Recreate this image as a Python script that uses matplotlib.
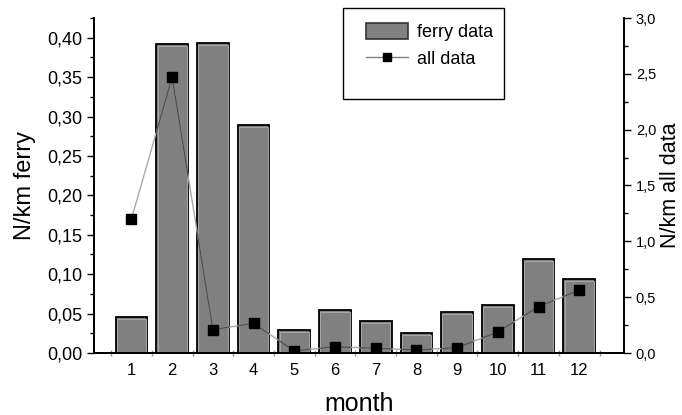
import matplotlib
matplotlib.use("Agg")
import matplotlib.pyplot as plt
from matplotlib.ticker import FuncFormatter, MultipleLocator, FixedLocator
from matplotlib.patches import Rectangle
from matplotlib.lines import Line2D
from matplotlib.path import Path

plt.rcParams['font.family'] = ['Liberation Sans', 'DejaVu Sans']

months = [1, 2, 3, 4, 5, 6, 7, 8, 9, 10, 11, 12]
month_labels = [str(m) for m in months]
ferry = [0.046, 0.392, 0.393, 0.289, 0.029, 0.054, 0.041, 0.025, 0.052, 0.061, 0.119, 0.094]
all_data = [1.20, 2.47, 0.21, 0.265, 0.018, 0.056, 0.042, 0.027, 0.048, 0.188, 0.415, 0.564]

fig = plt.figure(figsize=(6.82, 4.15), dpi=100)
ax = fig.add_axes([94/682, 1-353/415, (624-94)/682, (353-18)/415])
ax2 = ax.twinx()

bars = ax.bar(months, ferry, width=0.78, color='#808080', edgecolor='black', linewidth=1.3, zorder=2)
# light inner highlight of the bars
ax.bar(months, [v - 0.0025 for v in ferry], width=0.72, fill=False, edgecolor='#a8a8a8',
       linewidth=0.7, zorder=3)

# light line (outside the bars)
ax2.plot(months, all_data, color='#aaaaaa', linewidth=1.0, zorder=2)
# darker part of the line where it crosses the bars
dark, = ax2.plot(months, all_data, color='#505050', linewidth=1.0, zorder=3)
clip = Path.make_compound_path(*[b.get_path().transformed(b.get_patch_transform()) for b in bars])
dark.set_clip_path(clip, ax.transData)
ax2.plot(months, all_data, linestyle='none', marker='s', markersize=6.5,
         markerfacecolor='black', markeredgecolor='black', zorder=4)

ax.set_xlim(0.08, 13.1)
ax.set_ylim(0, 0.425)
ax2.set_ylim(0, 3.0)

comma = lambda fmt: FuncFormatter(lambda v, p: (fmt % v).replace('.', ','))
ax.yaxis.set_major_locator(MultipleLocator(0.05))
ax.yaxis.set_minor_locator(MultipleLocator(0.025))
ax.yaxis.set_major_formatter(comma('%.2f'))
ax2.yaxis.set_major_locator(MultipleLocator(0.5))
ax2.yaxis.set_minor_locator(MultipleLocator(0.25))
ax2.yaxis.set_major_formatter(comma('%.1f'))

ax.set_xticks([m + 0.5 for m in [0] + months])
ax.set_xticklabels([])
ax.xaxis.set_minor_locator(FixedLocator(months))
ax.xaxis.set_minor_formatter(FuncFormatter(lambda v, p: month_labels[int(round(v)) - 1]))
ax.tick_params(axis='x', which='major', direction='inout', length=5, width=1, color='#999999')
ax.tick_params(axis='x', which='minor', length=0, labelsize=12, pad=7)

ax.tick_params(axis='y', which='major', direction='out', length=5, width=1, labelsize=13)
ax.tick_params(axis='y', which='minor', direction='out', length=3, width=1)
ax2.tick_params(axis='y', which='major', direction='out', length=5, width=1, labelsize=10.5)
ax2.tick_params(axis='y', which='minor', direction='out', length=3, width=1)

for a in (ax, ax2):
    a.spines['top'].set_visible(False)
    for s in ('left', 'right', 'bottom'):
        a.spines[s].set_linewidth(1.3)

ax.set_ylabel('N/km ferry', fontsize=17, va='center')
ax.yaxis.set_label_coords((25 - 94) / 530, 0.5)
ax2.set_ylabel('N/km all data', fontsize=15.5, va='center')
ax2.yaxis.set_label_coords((670 - 94) / 530, 0.5)
ax.set_xlabel('month', fontsize=18, labelpad=10)

# legend
fig.patches.append(Rectangle((343/682, 1-99/415), (504-343)/682, (99-8)/415,
                             transform=fig.transFigure, fill=False, edgecolor='black',
                             linewidth=1.0, zorder=5))
h1 = Rectangle((0, 0), 1, 1, facecolor='#808080', edgecolor='#333333', linewidth=1.2)
h2 = Line2D([], [], color='#808080', linewidth=1.0, marker='s', markersize=6,
            markerfacecolor='black', markeredgecolor='black')
leg = fig.legend([h1, h2], ['ferry data', 'all data'], loc='upper left',
                 bbox_to_anchor=(357/682, 1-14/415), frameon=False, fontsize=13,
                 handlelength=2.3, handleheight=1.0, handletextpad=0.5, labelspacing=0.45,
                 borderpad=0)

fig.savefig('out.png', dpi=100)
